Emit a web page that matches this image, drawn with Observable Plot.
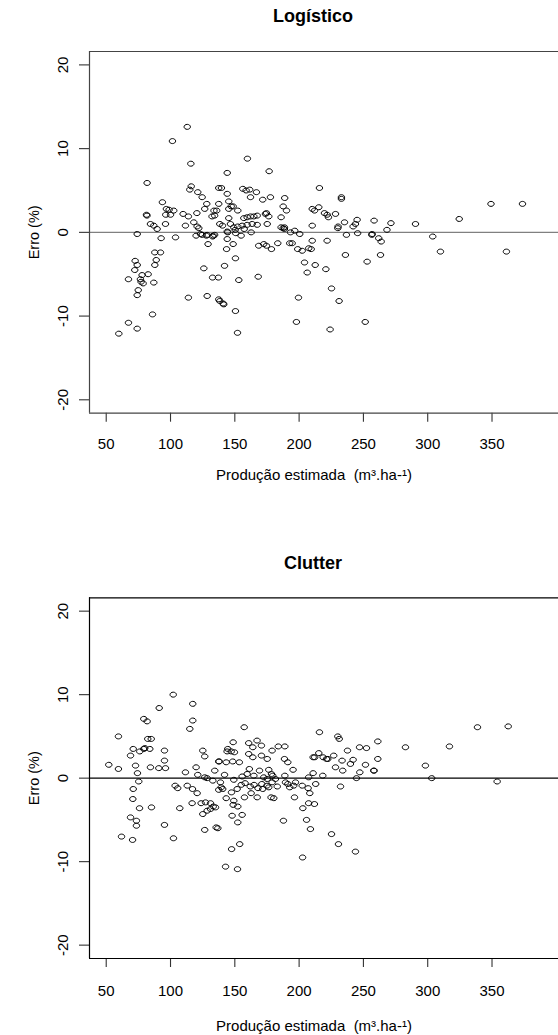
<!DOCTYPE html>
<html>
<head>
<meta charset="utf-8">
<script src="https://cdn.jsdelivr.net/npm/d3@7"></script>
<script src="https://cdn.jsdelivr.net/npm/@observablehq/plot@0.6"></script>
<style>
  body { margin: 0; background: #fff; }
  #chart { position: relative; width: 558px; height: 1035px; overflow: hidden; background: #fff; }
  #chart svg { position: absolute; left: 0; }
</style>
</head>
<body>
<div id="chart"></div>
<script>
// Axis text
const panelTitles = ["Logístico", "Clutter"];
const xLabel = "Produção estimada  (m³.ha-¹)";
const yLabel = "Erro (%)";
const xTicks = [50, 100, 150, 200, 250, 300, 350];
const yTicks = [-20, -10, 0, 10, 20];

// Logístico: estimated production vs. error (%)
const logX = [59.8,67.3,74.1,86.0,67.3,72.2,72.5,74.1,74.1,74.9,74.1,76.6,77.1,78.7,77.9,82.6,87.0,87.8,92.2,88.9,
  87.8,92.7,103.9,89.6,84.4,87.0,96.1,81.3,81.7,81.8,93.7,96.8,98.9,102.5,96.3,100.0,101.5,113.0,115.8,116.1,
  115.0,121.2,124.6,109.8,113.9,120.5,126.6,128.2,133.8,135.9,137.5,132.3,134.3,111.6,118.1,120.7,122.0,119.9,124.6,127.9,
  132.8,134.3,129.2,138.3,140.4,144.1,144.1,143.6,125.9,142.0,132.7,137.2,113.9,128.5,137.5,138.3,140.9,141.4,137.5,139.6,
  144.1,144.1,145.3,145.3,145.3,159.8,176.7,156.2,158.8,161.6,166.8,162.2,171.7,177.7,188.8,215.8,232.9,232.9,258.3,147.2,
  148.7,152.3,176.4,173.8,187.6,190.2,186.0,210.2,212.0,215.3,219.7,221.8,222.8,228.3,235.3,243.8,245.1,230.3,157.0,159.6,
  162.2,164.8,167.4,174.6,210.2,186.0,188.6,149.2,152.3,155.7,159.6,163.5,167.4,175.2,146.6,150.3,157.3,162.7,123.3,128.5,
  133.2,144.5,150.7,154.9,187.6,188.6,193.3,196.6,200.5,230.1,242.0,236.8,245.5,256.5,261.9,148.7,168.6,172.5,174.6,178.5,
  183.4,192.7,194.6,198.9,202.4,207.5,209.4,210.2,221.8,236.0,252.9,263.3,150.5,204.2,212.5,206.3,220.8,153.1,168.2,225.2,
  199.5,231.1,150.5,197.9,224.1,251.4,152.1,271.4,268.3,256.8,263.8,290.5,303.9,309.9,324.5,349.2,361.2,373.7];
const logY = [-12.1,-10.8,-11.5,-9.8,-5.6,-4.5,-3.4,-3.9,-0.2,-6.9,-7.5,-5.6,-5.9,-6.1,-5.1,-5.0,-6.0,-2.4,-2.4,-3.3,
  -3.9,-0.7,-0.6,0.4,1.0,0.8,1.0,2.1,2.0,5.9,3.6,2.8,2.7,2.6,2.1,2.1,10.9,12.6,8.2,5.5,
  5.1,4.8,4.2,2.2,1.9,2.3,2.8,3.4,2.6,2.6,3.4,1.9,2.0,0.8,1.2,0.7,0.5,-0.4,-0.3,-0.4,
  -0.5,-0.3,-1.4,1.0,0.8,0.1,-0.8,-2.0,-4.3,-4.0,-5.4,-5.4,-7.8,-7.6,-8.0,-8.2,-8.5,-8.6,5.3,5.3,
  4.6,7.1,2.8,3.7,1.7,8.8,7.3,5.2,5.0,5.1,4.8,4.2,3.9,4.2,4.1,5.3,4.2,4.0,1.4,3.1,
  3.1,2.6,1.9,2.2,3.1,2.6,1.8,2.8,2.6,3.0,2.3,2.1,1.8,2.2,1.2,1.0,1.5,0.7,1.7,1.8,
  1.9,1.9,2.0,2.3,0.8,0.6,0.6,0.6,0.7,0.8,0.9,1.0,0.9,1.0,1.0,0.3,0.4,0.0,-0.2,-0.3,
  -0.4,0.0,-0.1,-0.4,0.5,0.4,0.0,0.2,-0.2,0.5,0.7,-0.3,-0.1,-0.3,-0.7,-1.4,-1.6,-1.4,-1.6,-2.0,
  -1.3,-1.3,-1.3,-2.0,-2.2,-1.9,-2.0,-1.0,-1.0,-2.7,-3.5,-2.7,-3.1,-3.6,-3.9,-4.8,-4.4,-5.7,-5.3,-6.7,
  -7.8,-8.2,-9.4,-10.7,-11.6,-10.7,-12.0,1.1,0.3,-0.2,-1.1,1.0,-0.5,-2.3,1.6,3.4,-2.3,3.4];

// Clutter: estimated production vs. error (%)
const cluX = [102.1,117.3,91.2,79.2,81.8,117.3,115.0,59.5,82.3,85.0,71.0,76.1,79.2,80.0,83.9,68.9,95.3,95.3,125.1,126.6,
  137.5,52.0,59.5,72.8,84.4,90.9,96.1,74.3,111.6,119.9,134.4,121.2,126.6,128.5,132.9,75.3,71.0,103.6,105.6,113.0,
  117.1,120.7,137.5,70.7,75.9,85.2,107.2,116.8,123.8,127.2,131.1,133.2,135.0,125.1,128.5,131.1,68.9,73.5,73.5,95.3,
  126.6,135.5,157.3,215.8,230.1,231.2,261.2,148.7,160.8,167.3,170.7,164.0,183.8,188.9,179.0,144.0,144.5,147.2,149.7,160.8,
  164.0,170.7,175.2,188.6,191.2,210.9,212.1,215.3,218.7,221.3,222.3,226.9,237.6,247.0,252.4,233.4,242.0,239.9,251.6,261.2,
  258.0,258.3,247.2,244.6,228.3,233.9,218.4,232.2,137.8,143.3,148.4,153.5,161.3,169.2,176.4,178.5,179.5,188.9,195.3,210.9,
  207.4,142.0,149.2,155.7,159.6,164.8,172.5,175.2,181.6,138.8,139.4,140.6,155.0,158.0,162.0,165.0,168.0,171.0,175.0,179.0,
  183.0,189.4,191.2,192.7,195.8,197.2,202.4,207.0,208.3,212.9,143.3,147.4,151.8,157.5,162.7,167.4,171.7,176.4,178.2,180.3,
  196.4,149.2,152.3,148.7,202.9,207.4,211.9,147.9,155.7,152.3,187.8,205.8,136.8,208.8,282.7,316.9,298.2,303.1,338.7,362.6,
  354.0,61.9,70.5,102.3,147.5,153.8,142.8,152.1,202.7,225.2,230.6,243.8];
const cluY = [10.0,8.9,8.4,7.1,6.8,6.9,5.9,5.0,4.7,4.7,3.5,3.2,3.5,3.6,3.5,2.7,3.3,2.1,3.3,2.6,
  2.0,1.6,1.1,1.5,1.3,1.2,1.2,0.6,0.7,1.3,0.9,0.4,0.1,0.0,-0.3,-0.4,-1.3,-0.9,-1.2,-0.9,
  -1.3,-1.8,-1.4,-2.5,-3.6,-3.5,-3.6,-3.0,-3.0,-2.9,-3.0,-3.4,-3.5,-4.3,-3.9,-3.7,-4.7,-5.1,-5.7,-5.6,
  -6.2,-5.9,6.1,5.5,5.0,4.7,4.4,4.3,4.2,4.5,3.9,3.7,3.8,3.8,3.3,3.2,3.5,3.2,3.1,2.9,
  2.5,2.7,2.3,2.3,1.9,2.5,2.5,3.0,2.5,2.3,2.3,2.7,3.3,3.7,3.6,2.1,2.2,1.7,1.6,2.3,
  0.9,0.9,0.7,0.0,1.3,0.9,0.3,-1.0,2.0,1.9,2.0,1.9,1.1,0.9,1.0,0.5,0.3,0.3,1.0,0.6,
  0.1,0.4,-0.2,0.2,0.5,0.3,0.1,-0.1,-0.1,-0.5,-1.1,-1.3,-0.8,-0.6,-1.0,-0.8,-1.2,-0.7,-0.9,-0.5,
  -1.0,-0.5,-0.7,-1.1,-0.9,-0.5,-0.9,-1.2,-1.8,-0.7,-2.4,-1.7,-1.3,-2.3,-1.8,-2.3,-1.3,-1.1,-2.3,-2.4,
  -2.3,-2.7,-3.4,-3.2,-3.6,-3.0,-3.1,-4.5,-4.4,-5.3,-5.1,-5.0,-6.0,-6.1,3.7,3.8,1.5,0.0,6.1,6.2,
  -0.4,-7.0,-7.4,-7.2,-8.5,-7.9,-10.6,-10.9,-9.5,-6.7,-7.9,-8.8];

// Open circles, slightly wider than tall
const ring = {
  draw(ctx, size) {
    const r = Math.sqrt(size / Math.PI), a = r, b = r * 0.78, k = 0.5523;
    ctx.moveTo(a, 0);
    ctx.bezierCurveTo(a, b * k, a * k, b, 0, b);
    ctx.bezierCurveTo(-a * k, b, -a, b * k, -a, 0);
    ctx.bezierCurveTo(-a, -b * k, -a * k, -b, 0, -b);
    ctx.bezierCurveTo(a * k, -b, a, -b * k, a, 0);
    ctx.closePath();
  }
};

const xDomain = [37, 401.7];
const yDomain = [-21.6, 21.6];
const font = "'Liberation Sans', Arial, Helvetica, sans-serif";

function panel({xs, ys, title, top, height, marginTop, marginBottom, frameColor, zeroColor, tickPad, labelDy}) {
  const pts = xs.map((x, i) => ({x, y: ys[i]}));
  const svg = Plot.plot({
    width: 558,
    height,
    marginLeft: 89,
    marginRight: 0,
    marginTop,
    marginBottom,
    style: {fontFamily: font, background: "#fff", color: "#000", overflow: "visible"},
    x: {domain: xDomain, axis: null, label: null},
    y: {domain: yDomain, axis: null, label: null},
    marks: [
      Plot.axisX({ticks: xTicks, label: null, tickSize: 9, tickPadding: tickPad, fontSize: 15, stroke: "#333", strokeWidth: 1.1}),
      Plot.axisY({ticks: yTicks, label: null, tickSize: 10, tickFormat: () => "", stroke: "#333", strokeWidth: 1.1}),
      Plot.text(yTicks, {y: d => d, text: d => String(d), frameAnchor: "left", dx: -26.5, rotate: -90,
        textAnchor: "middle", lineAnchor: "middle", fontSize: 15, fill: "#000"}),
      Plot.ruleY([0], {stroke: zeroColor, strokeWidth: 1.2}),
      Plot.ruleY(yDomain, {stroke: frameColor, strokeWidth: 1.2}),
      Plot.ruleX([xDomain[0]], {stroke: frameColor, strokeWidth: 1.2}),
      Plot.dot(pts, {x: "x", y: "y", r: 3.2, symbol: ring, stroke: "#000", strokeWidth: 1, fill: "none"}),
      Plot.text([title], {frameAnchor: "top", dx: -11, dy: -35, textAnchor: "middle", lineAnchor: "middle",
        fontSize: 18, fontWeight: "bold", fill: "#000"}),
      Plot.text([xLabel], {frameAnchor: "bottom", dx: -10, dy: labelDy, textAnchor: "middle", lineAnchor: "middle",
        fontSize: 15, fill: "#000"}),
      Plot.text([yLabel], {frameAnchor: "left", dx: -55, rotate: -90, textAnchor: "middle", lineAnchor: "middle",
        fontSize: 14.5, fill: "#000"})
    ]
  });
  svg.style.top = top + "px";
  return svg;
}

const chart = document.getElementById("chart");
chart.append(panel({xs: logX, ys: logY, title: panelTitles[0], top: 0, height: 500,
  marginTop: 51, marginBottom: 87.3, frameColor: "#444", zeroColor: "#808080", tickPad: 16, labelDy: 62.3}));
chart.append(panel({xs: cluX, ys: cluY, title: panelTitles[1], top: 517, height: 518,
  marginTop: 80.3, marginBottom: 77, frameColor: "#000", zeroColor: "#000", tickPad: 17.5, labelDy: 68}));
</script>
</body>
</html>
